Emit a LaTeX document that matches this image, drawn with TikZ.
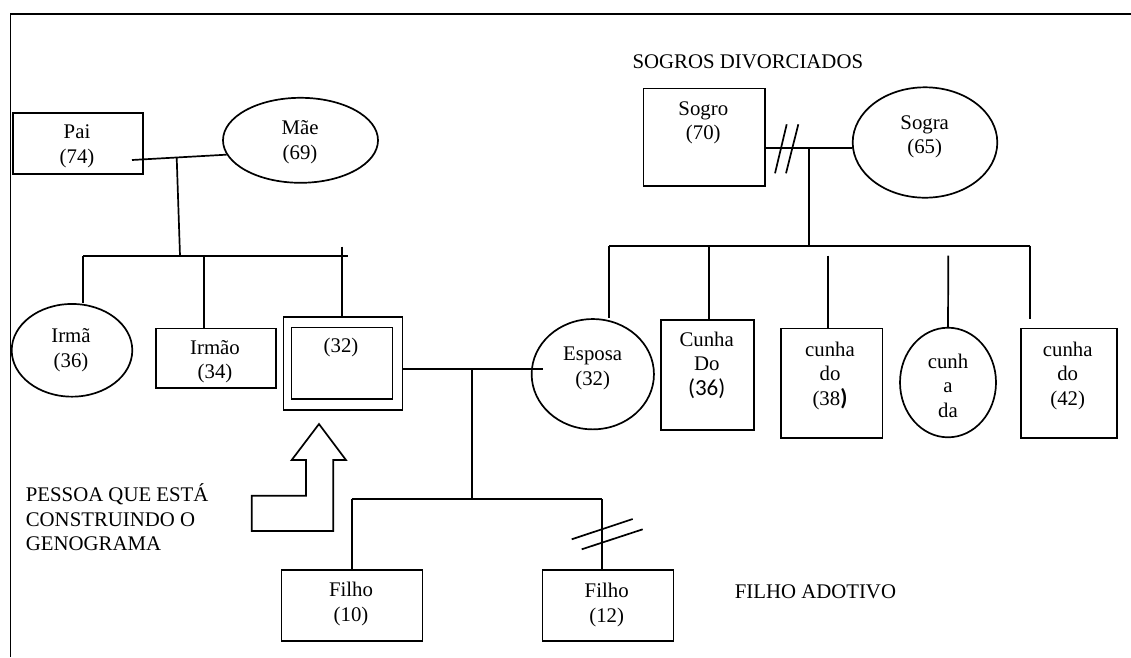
\documentclass[tikz,border=0pt]{standalone}
\usepackage{fontspec}
\setmainfont{Liberation Serif}
\newfontfamily\calib{Carlito}
\usetikzlibrary{shapes.geometric}

\begin{document}
\begin{tikzpicture}[x=1pt,y=-1pt,line width=1.7pt,
  box/.style={draw,rectangle,inner sep=0pt,anchor=north west},
  oval/.style={draw,ellipse,inner sep=0pt},
  txt/.style={align=center,inner sep=0pt,font=\fontsize{20.8}{24.5}\selectfont},
  caption/.style={anchor=west,inner sep=0pt,font=\fontsize{20.8}{24.5}\selectfont}]
\useasboundingbox (0,0) rectangle (1131,657);

% page frame
\draw (10.5,657) -- (10.5,14) -- (1131,14);

% ---- parents of the ego ----
\node[box,minimum width=130pt,minimum height=61pt] (pai) at (12,112) {};
\node[txt] (pai-t) at (77,146) {\strut Pai\\\strut (74)};
\node[oval,minimum width=155pt,minimum height=85pt] (mae) at (300.5,140.3) {};
\node[txt] (mae-t) at (300,142) {\strut Mãe\\\strut (69)};

\coordinate (pm) at (132,160);
\coordinate (pj) at (176.7,157.6);
\draw (pm) -- (mae.191);

% sibling line
\coordinate (sibL) at (83.3,255.7);
\coordinate (sibR) at (348.3,255.7);
\coordinate (sibC) at (180,255.7);
\coordinate (sI) at (204,255.7);
\coordinate (sE) at (341.7,246.7);
\draw (pj) -- (sibC);
\draw (sibL) -- (sibR);

% siblings
\node[oval,minimum width=120.6pt,minimum height=92.7pt] (irma) at (72,350.3) {};
\node[txt] (irma-t) at (71,350.3) {\strut Irmã\\\strut (36)};
\draw (sibL) -- (sibL |- irma.north);

\node[box,minimum width=119.7pt,minimum height=59.6pt] (irmao) at (155.3,327.7) {};
\node[txt] (irmao-t) at (215,361.6) {\strut Irmão\\\strut (34)};
\draw (sI) -- (sI |- irmao.north);

% ego (double frame)
\node[box,minimum width=119pt,minimum height=93pt] (ego) at (282.7,316) {};
\node[box,minimum width=101pt,minimum height=71.6pt] (egoin) at (290.7,326.7) {};
\node[txt] (ego-t) at (341,347.7) {(32)};
\draw (sE) -- (sE |- ego.north);

% arrow pointing at the ego
\draw (319,424) -- (346,460) -- (333.3,460) -- (333.3,531) -- (251.7,531)
  -- (251.7,495.7) -- (306,495.7) -- (306,460) -- (291.7,460) -- cycle;
\node[caption,align=left] (pessoa) at (25,521)
  {\strut PESSOA QUE ESTÁ\\\strut CONSTRUINDO O\\\strut GENOGRAMA};

% spouse
\node[oval,minimum width=122.3pt,minimum height=110.3pt] (esposa) at (592.8,374.2) {};
\node[txt] (esposa-t) at (592.7,368.1) {\strut Esposa\\\strut (32)};

% marriage and children
\coordinate (cm) at (471.7,369);
\coordinate (mE) at (542.7,369);
\draw (ego.east |- cm) -- (mE);
\coordinate (kc) at (471.7,499.3);
\coordinate (kL) at (351.7,499.3);
\coordinate (kR) at (602.3,499.3);
\draw (cm) -- (kc);
\draw (kL) -- (kR);

\node[box,minimum width=141pt,minimum height=70.7pt] (filho1) at (280.7,569.3) {};
\node[txt] (filho1-t) at (351,604.3) {\strut Filho\\\strut (10)};
\node[box,minimum width=131pt,minimum height=71pt] (filho2) at (541.7,569) {};
\node[txt] (filho2-t) at (606.7,605) {\strut Filho\\\strut (12)};
\draw (kL) -- (kL |- filho1.north);
\draw (kR) -- (kR |- filho2.north);
% adoption mark
\draw (571.7,539.3) -- (632.7,519);
\draw (581.7,549.3) -- (642.7,529.3);
\node[caption] (adotivo) at (734,591.7) {FILHO ADOTIVO};

% ---- parents-in-law ----
\node[caption] (divorc) at (631.7,61.7) {SOGROS DIVORCIADOS};
\node[box,minimum width=121.6pt,minimum height=97.3pt] (sogro) at (642.7,87.7) {};
\node[txt] (sogro-t) at (703.3,122.5) {\strut Sogro\\\strut (70)};
\node[oval,minimum width=144.6pt,minimum height=110.4pt] (sogra) at (925,142.5) {};
\node[txt] (sogra-t) at (924.7,136.8) {\strut Sogra\\\strut (65)};

\coordinate (sj) at (808.7,148);
\draw (sogro.east |- sj) -- (sogra.west |- sj);
% divorce mark
\draw (775,173.3) -- (786.7,124.3);
\draw (786,173.3) -- (798.3,124.3);

% in-law sibling line
\coordinate (iL) at (609.3,245.7);
\coordinate (iR) at (1030,245.7);
\coordinate (iC) at (808.7,245.7);
\coordinate (i1) at (709,245.7);
\coordinate (i2) at (828.3,255.7);
\coordinate (i3) at (948.3,255.7);
\coordinate (i4) at (1030,319.3);
\draw (sj) -- (iC);
\draw (iL) -- (iR);
\draw (iL) -- (iL |- esposa.north);

\node[box,minimum width=93.3pt,minimum height=110pt] (cd36) at (660,319) {};
\node[txt] (cd36-t) at (706.7,366) {\strut Cunha\\\strut Do\\\strut{\calib\fontsize{23}{24.5}\selectfont (36)}};
\draw (i1) -- (i1 |- cd36.north);

\node[box,minimum width=101.7pt,minimum height=109.6pt] (cd38) at (780,327.7) {};
\node[txt] (cd38-t) at (830,375.8) {\strut cunha\\\strut do\\\strut (38{\calib\bfseries\fontsize{23}{24.5}\selectfont )}};
\draw (i2) -- (i2 |- cd38.north);

\node[oval,minimum width=96pt,minimum height=109.6pt] (cda) at (948,382.5) {};
\node[txt] (cda-t) at (948,388) {\strut cunh\\\strut a\\\strut da};
\draw (i3) -- (cda.north);

\node[box,minimum width=96pt,minimum height=109.6pt] (cd42) at (1020,327.7) {};
\node[txt] (cd42-t) at (1067.7,375.8) {\strut cunha\\\strut do\\\strut (42)};
\draw (iR) -- (i4);
\end{tikzpicture}
\end{document}
